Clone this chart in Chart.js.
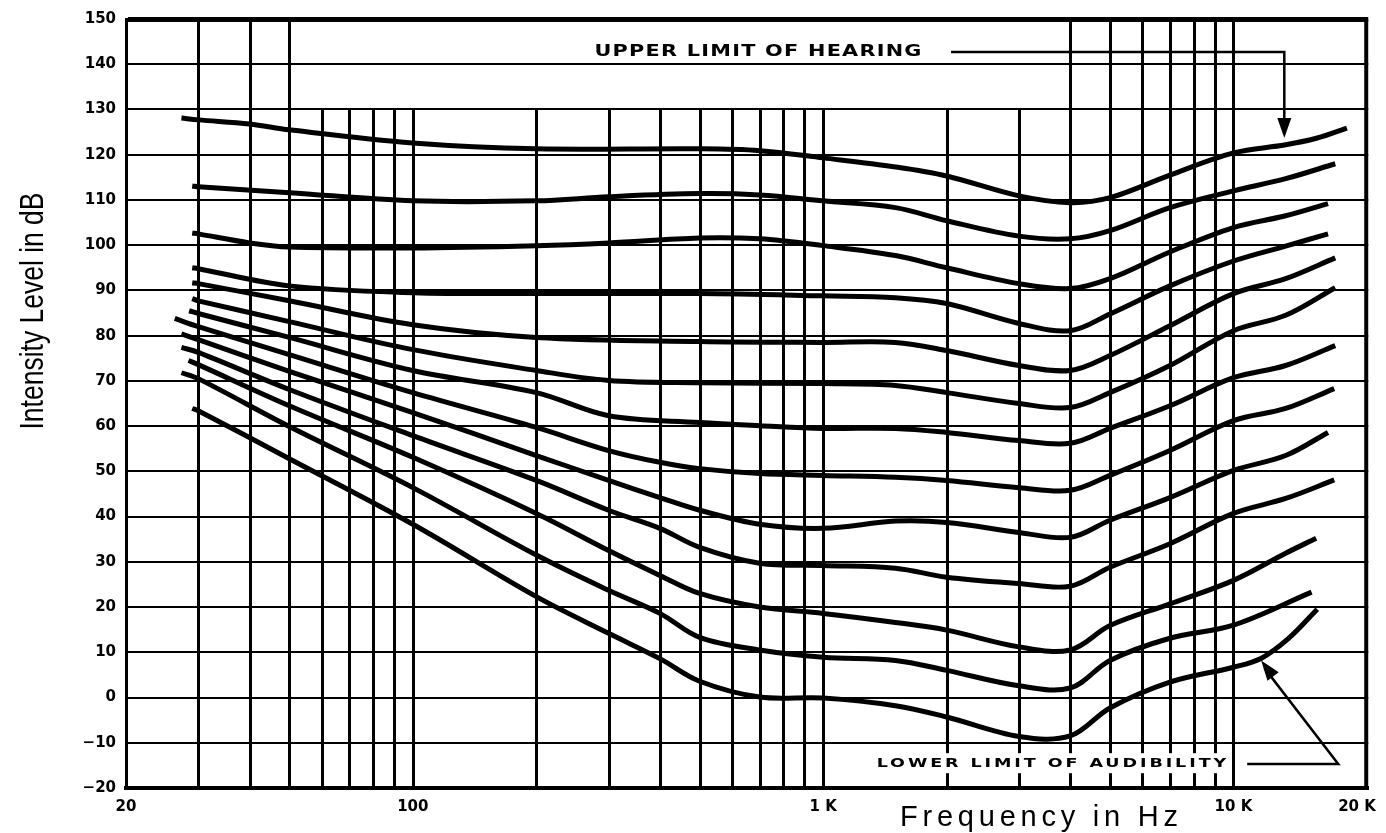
<!DOCTYPE html>
<html>
<head>
<meta charset="utf-8">
<title>Equal loudness contours</title>
<script src="https://cdn.jsdelivr.net/npm/chart.js@4.4.1/dist/chart.umd.min.js"></script>
<style>
  html, body { margin: 0; padding: 0; background: #fff; }
  canvas { display: block; }
</style>
</head>
<body>
<canvas id="chart" width="1386" height="833"></canvas>
<script>
// Curves: [frequency in Hz, intensity level in dB]
const phon120 = [[27.3,128.1],[30,127.7],[40,126.8],[50,125.5],[100,122.6],[200,121.3],[500,121.3],[700,120.9],[1000,119.3],[1500,117.3],[2000,115.3],[3000,110.9],[4000,109.4],[5000,110.5],[7000,115.5],[10000,120.4],[13400,122.2],[16000,123.7],[18900,125.9]];
const phon110 = [[29,113.1],[30,112.9],[50,111.6],[100,109.8],[200,109.8],[300,110.7],[500,111.4],[700,111.1],[1000,109.8],[1500,108.3],[2000,105.4],[3000,102.0],[4000,101.4],[5000,103.2],[7000,108.3],[10000,112.0],[13400,114.7],[17700,118.0]];
const phon100 = [[29,102.7],[30,102.5],[40,100.5],[50,99.6],[100,99.4],[200,99.9],[300,100.5],[500,101.6],[700,101.4],[1000,99.9],[1500,97.7],[2000,95.0],[3000,91.5],[4000,90.4],[5000,92.6],[7000,98.5],[10000,103.9],[13400,106.5],[17000,109.2]];
const phon90 = [[29,95.0],[30,94.8],[50,91.0],[100,89.5],[200,89.3],[500,89.3],[1000,88.8],[1500,88.4],[2000,87.1],[3000,82.7],[4000,81.1],[5000,84.8],[7000,91.0],[10000,96.5],[13400,99.8],[17000,102.5]];
const phon80 = [[29,91.7],[30,91.5],[50,87.7],[100,82.4],[200,79.6],[500,78.7],[1000,78.5],[1500,78.5],[2000,76.7],[3000,73.4],[4000,72.3],[5000,75.6],[7000,82.2],[10000,89.3],[13400,92.6],[17700,97.2]];
const phon70 = [[29,88.2],[30,87.7],[50,83.1],[100,76.9],[200,72.3],[300,70.1],[500,69.6],[1000,69.4],[1500,69.0],[2000,67.4],[3000,65.0],[4000,64.1],[5000,67.4],[7000,73.4],[10000,81.1],[13400,84.5],[17700,90.6]];
const phon60 = [[28.5,85.5],[30,84.9],[50,79.6],[100,72.3],[200,67.4],[300,62.3],[500,60.8],[700,60.1],[1000,59.5],[1500,59.5],[2000,58.6],[3000,56.8],[4000,56.2],[5000,59.5],[7000,64.5],[10000,70.7],[13400,73.4],[17700,77.8]];
const phon50 = [[26.3,83.8],[30,82.0],[50,75.8],[100,67.4],[200,59.7],[300,54.6],[400,52.0],[500,50.6],[700,49.5],[1000,49.1],[1500,48.7],[2000,48.0],[3000,46.4],[4000,45.8],[5000,49.1],[7000,54.6],[10000,61.2],[13400,63.9],[17600,68.3]];
const phon40 = [[27.3,80.4],[30,79.1],[50,72.1],[100,63.0],[200,53.5],[300,48.0],[400,44.2],[500,41.4],[700,38.3],[1000,37.4],[1500,39.0],[2000,38.7],[3000,36.5],[4000,35.4],[5000,39.2],[7000,44.2],[10000,50.2],[13400,53.5],[17000,58.6]];
const phon30 = [[27.3,77.4],[30,76.3],[50,68.1],[100,57.9],[200,48.0],[300,41.4],[400,37.4],[500,33.2],[700,29.7],[1000,29.2],[1500,28.6],[2000,26.6],[3000,25.2],[4000,24.6],[5000,28.8],[7000,34.0],[10000,40.7],[13400,44.0],[17600,48.1]];
const phon20 = [[28.4,74.5],[30,73.6],[50,64.5],[100,53.1],[200,40.7],[300,32.5],[400,27.0],[500,23.0],[700,20.0],[1000,18.6],[1500,16.6],[2000,14.9],[3000,11.2],[4000,10.5],[5000,15.9],[7000,20.7],[10000,25.9],[13400,31.9],[15900,35.2]];
const phon10 = [[27.3,71.8],[30,70.5],[50,59.9],[100,46.4],[200,31.5],[300,23.7],[400,18.6],[500,13.3],[700,10.5],[1000,8.9],[1500,8.2],[2000,6.0],[3000,2.6],[4000,2.1],[5000,8.2],[7000,13.1],[10000,16.0],[15500,23.3]];
const phon0 = [[29,63.9],[30,63.4],[50,52.8],[100,38.3],[200,22.3],[300,14.2],[400,8.6],[500,3.6],[700,0.1],[1000,-0.1],[1500,-1.8],[2000,-4.3],[3000,-8.6],[4000,-8.5],[5000,-2.3],[7000,3.4],[10000,6.7],[11700,8.7],[13600,13.0],[16000,19.5]];
const CURVES = [phon120, phon110, phon100, phon90, phon80, phon70, phon60, phon50, phon40, phon30, phon20, phon10, phon0];

// Axes
const X_TICKS = [20, 100, 1000, 10000, 20000];
const X_LABELS = ["20", "100", "1 K", "10 K", "20 K"];
const Y_TICKS = [-20, -10, 0, 10, 20, 30, 40, 50, 60, 70, 80, 90, 100, 110, 120, 130, 140, 150];
const GRID_FREQS = [30, 40, 50, 60, 70, 80, 90, 100, 200, 300, 400, 500, 600, 700, 800, 900,
  1000, 2000, 3000, 4000, 5000, 6000, 7000, 8000, 9000, 10000];
// vertical lines that run up to the top edge, the others stop at 130 dB
const TALL_FREQS = [30, 40, 50, 4000, 5000, 6000, 7000, 8000, 9000, 10000];

const tickFont = { family: "DejaVu Sans", size: 15, weight: "bold" };

// draws text stretched by sx and spread so it runs from x0 to x1
function fitText(ctx, text, x0, x1, baseline, sx) {
  ctx.save();
  ctx.translate(x0, baseline);
  ctx.scale(sx, 1);
  ctx.letterSpacing = "0px";
  const w0 = ctx.measureText(text).width;
  ctx.letterSpacing = (((x1 - x0) / sx - w0) / (text.length - 1)) + "px";
  ctx.textAlign = "left";
  ctx.textBaseline = "alphabetic";
  ctx.fillText(text, 0, 0);
  ctx.restore();
}

function arrowHead(ctx, tx, ty, fx, fy, len, half) {
  const a = Math.atan2(ty - fy, tx - fx);
  const bx = tx - len * Math.cos(a), by = ty - len * Math.sin(a);
  ctx.beginPath();
  ctx.moveTo(tx, ty);
  ctx.lineTo(bx + half * Math.sin(a), by - half * Math.cos(a));
  ctx.lineTo(bx - half * Math.sin(a), by + half * Math.cos(a));
  ctx.closePath();
  ctx.fill();
}

const framePlugin = {
  id: "frame",
  beforeDatasetsDraw(chart) {
    const { ctx, chartArea: a, scales: { x, y } } = chart;
    ctx.save();
    ctx.strokeStyle = "#000";
    ctx.lineWidth = 3;
    GRID_FREQS.forEach(f => {
      const px = Math.round(x.getPixelForValue(f)) + 0.5;
      const top = TALL_FREQS.includes(f) ? a.top : y.getPixelForValue(130);
      ctx.beginPath();
      ctx.moveTo(px, top);
      ctx.lineTo(px, a.bottom);
      ctx.stroke();
    });
    ctx.lineWidth = 4;
    ctx.beginPath();
    ctx.moveTo(a.right - 2, a.top);
    ctx.lineTo(a.right - 2, a.bottom);
    ctx.stroke();
    ctx.restore();
  },
  afterDatasetsDraw(chart) {
    const { ctx, scales: { x, y } } = chart;
    const X = f => x.getPixelForValue(f);
    const Y = d => y.getPixelForValue(d);
    ctx.save();
    ctx.fillStyle = "#000";
    ctx.strokeStyle = "#000";
    ctx.lineWidth = 2.5;

    // upper limit of hearing
    ctx.font = "bold 16px 'DejaVu Sans'";
    fitText(ctx, "UPPER LIMIT OF HEARING", X(277), X(1736), Y(141.8), 1.3);
    ctx.beginPath();
    ctx.moveTo(X(2050), Y(142.7));
    ctx.lineTo(X(13300), Y(142.7));
    ctx.lineTo(X(13300), Y(127.5));
    ctx.stroke();
    arrowHead(ctx, X(13300), Y(123.7), X(13300), Y(142.7), 20, 7);

    // lower limit of audibility
    ctx.font = "bold 13px 'DejaVu Sans'";
    const lx0 = X(1350), lx1 = X(9600), lb = Y(-15.4);
    ctx.fillStyle = "#fff";
    ctx.fillRect(lx0 - 4, lb - 14, lx1 - lx0 + 8, 20);
    ctx.fillStyle = "#000";
    fitText(ctx, "LOWER LIMIT OF AUDIBILITY", lx0, lx1, lb, 1.35);
    ctx.beginPath();
    ctx.moveTo(X(10800), Y(-14.7));
    ctx.lineTo(X(18000), Y(-14.7));
    ctx.lineTo(X(11900), Y(6.5));
    ctx.stroke();
    arrowHead(ctx, X(11680), Y(8.2), X(18000), Y(-14.7), 20, 7);
    ctx.restore();
  },
  afterDraw(chart) {
    const { ctx } = chart;
    ctx.save();
    ctx.fillStyle = "#000";
    // y title, narrow and tall
    ctx.font = "33px 'Liberation Sans'";
    const yt = "Intensity Level in dB";
    const w = ctx.measureText(yt).width;
    ctx.translate(43, 311);
    ctx.rotate(-Math.PI / 2);
    ctx.scale(237 / w, 1);
    ctx.textAlign = "center";
    ctx.textBaseline = "alphabetic";
    ctx.fillText(yt, 0, 0);
    ctx.restore();

    ctx.save();
    ctx.fillStyle = "#000";
    ctx.font = "29px 'Liberation Sans'";
    fitText(ctx, "Frequency in Hz", 900, 1178, 826, 1);
    ctx.restore();
  }
};

const chart = new Chart(document.getElementById("chart"), {
  type: "line",
  data: {
    datasets: CURVES.map(c => ({
      data: c.map(([f, db]) => ({ x: f, y: db })),
      borderColor: "#000",
      borderWidth: 5,
      pointRadius: 0,
      fill: false,
      tension: 0.35
    }))
  },
  options: {
    responsive: false,
    animation: false,
    devicePixelRatio: 1,
    layout: { padding: { top: 18, right: 15, left: 0, bottom: 0 } },
    plugins: { legend: { display: false }, tooltip: { enabled: false } },
    scales: {
      x: {
        type: "logarithmic",
        min: 20,
        max: 21300,
        afterBuildTicks: s => { s.ticks = X_TICKS.map(v => ({ value: v })); },
        afterFit: s => { s.height = 45; },
        grid: { display: false, drawTicks: false },
        border: { display: true, color: "#000", width: 4 },
        ticks: {
          autoSkip: false,
          maxRotation: 0,
          padding: 10,
          color: "#000",
          font: tickFont,
          callback: v => {
            const i = X_TICKS.indexOf(v);
            return i < 0 ? "" : X_LABELS[i];
          }
        }
      },
      y: {
        type: "linear",
        min: -20,
        max: 150,
        afterBuildTicks: s => { s.ticks = Y_TICKS.map(v => ({ value: v })); },
        afterFit: s => { s.width = 126; },
        grid: {
          color: "#000",
          lineWidth: c => (c.tick && c.tick.value === 150 ? 5 : 2),
          drawTicks: false
        },
        border: { display: true, color: "#000", width: 3 },
        ticks: {
          padding: 10,
          color: "#000",
          font: tickFont,
          callback: v => (v < 0 ? "\u2212" + (-v) : String(v))
        }
      }
    }
  },
  plugins: [framePlugin]
});
</script>
</body>
</html>
